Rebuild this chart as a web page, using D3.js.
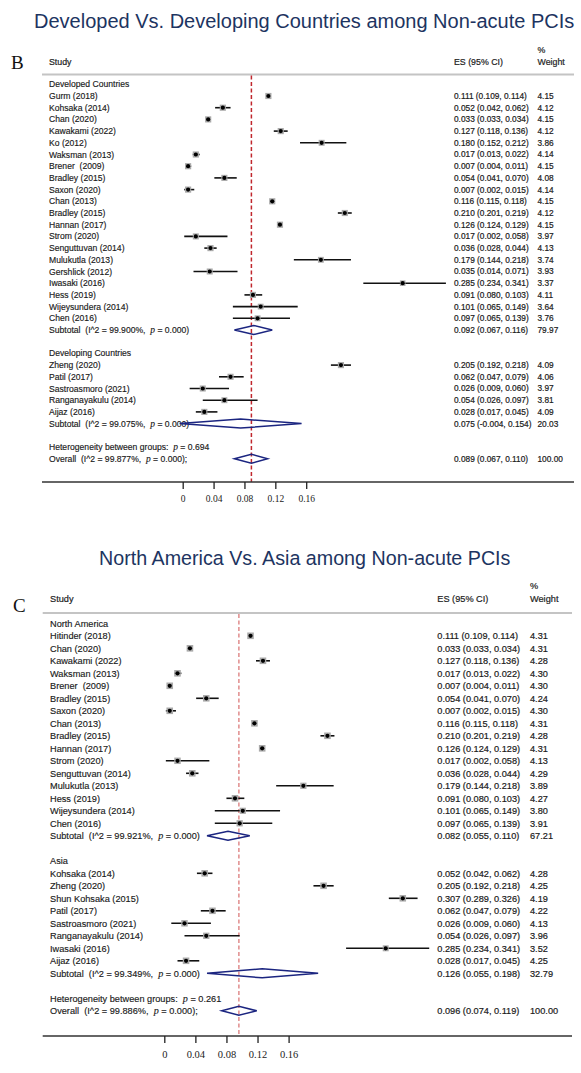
<!DOCTYPE html>
<html>
<head>
<meta charset="utf-8">
<script src="https://cdn.jsdelivr.net/npm/d3@7"></script>
<style>
  html, body { margin: 0; padding: 0; background: #fff; }
  svg { display: block; font-family: "Liberation Sans", Arial, sans-serif; }
  text { white-space: pre; }
</style>
</head>
<body>
<svg id="chart" width="581" height="1073"></svg>
<script>
// ---------- Panel B: developed vs developing ----------
const developedNames = ["Gurm (2018)", "Kohsaka (2014)", "Chan (2020)", "Kawakami (2022)", "Ko (2012)",
  "Waksman (2013)", "Brener  (2009)", "Bradley (2015)", "Saxon (2020)", "Chan (2013)", "Bradley (2015)",
  "Hannan (2017)", "Strom (2020)", "Senguttuvan (2014)", "Mulukutla (2013)", "Gershlick (2012)",
  "Iwasaki (2016)", "Hess (2019)", "Wijeysundera (2014)", "Chen (2016)"];
const developedES = [0.111, 0.052, 0.033, 0.127, 0.180, 0.017, 0.007, 0.054, 0.007, 0.116, 0.210,
  0.126, 0.017, 0.036, 0.179, 0.035, 0.285, 0.091, 0.101, 0.097];
const developedLo = [0.109, 0.042, 0.033, 0.118, 0.152, 0.013, 0.004, 0.041, 0.002, 0.115, 0.201,
  0.124, 0.002, 0.028, 0.144, 0.014, 0.234, 0.080, 0.065, 0.065];
const developedHi = [0.114, 0.062, 0.034, 0.136, 0.212, 0.022, 0.011, 0.070, 0.015, 0.118, 0.219,
  0.129, 0.058, 0.044, 0.218, 0.071, 0.341, 0.103, 0.149, 0.139];
const developedW = [4.15, 4.12, 4.15, 4.12, 3.86, 4.14, 4.15, 4.08, 4.14, 4.15, 4.12,
  4.15, 3.97, 4.13, 3.74, 3.93, 3.37, 4.11, 3.64, 3.76];

const developingNames = ["Zheng (2020)", "Patil (2017)", "Sastroasmoro (2021)", "Ranganayakulu (2014)", "Aijaz (2016)"];
const developingES = [0.205, 0.062, 0.026, 0.054, 0.028];
const developingLo = [0.192, 0.047, 0.009, 0.026, 0.017];
const developingHi = [0.218, 0.079, 0.060, 0.097, 0.045];
const developingW = [4.09, 4.06, 3.97, 3.81, 4.09];

// subtotals: [es, lo, hi, weight, I^2, p]
const devSubtotal = [0.092, 0.067, 0.116, 79.97, "99.900%", "0.000"];
const devingSubtotal = [0.075, -0.004, 0.154, 20.03, "99.075%", "0.000"];
const panelBOverall = [0.089, 0.067, 0.110, 100.00, "99.877%", "0.000"];
const panelBHetP = "0.694";

// ---------- Panel C: North America vs Asia ----------
const naNames = ["Hitinder (2018)", "Chan (2020)", "Kawakami (2022)", "Waksman (2013)", "Brener  (2009)",
  "Bradley (2015)", "Saxon (2020)", "Chan (2013)", "Bradley (2015)", "Hannan (2017)", "Strom (2020)",
  "Senguttuvan (2014)", "Mulukutla (2013)", "Hess (2019)", "Wijeysundera (2014)", "Chen (2016)"];
const naES = [0.111, 0.033, 0.127, 0.017, 0.007, 0.054, 0.007, 0.116, 0.210, 0.126, 0.017,
  0.036, 0.179, 0.091, 0.101, 0.097];
const naLo = [0.109, 0.033, 0.118, 0.013, 0.004, 0.041, 0.002, 0.115, 0.201, 0.124, 0.002,
  0.028, 0.144, 0.080, 0.065, 0.065];
const naHi = [0.114, 0.034, 0.136, 0.022, 0.011, 0.070, 0.015, 0.118, 0.219, 0.129, 0.058,
  0.044, 0.218, 0.103, 0.149, 0.139];
const naW = [4.31, 4.31, 4.28, 4.30, 4.30, 4.24, 4.30, 4.31, 4.28, 4.31, 4.13, 4.29, 3.89, 4.27, 3.80, 3.91];

const asiaNames = ["Kohsaka (2014)", "Zheng (2020)", "Shun Kohsaka (2015)", "Patil (2017)",
  "Sastroasmoro (2021)", "Ranganayakulu (2014)", "Iwasaki (2016)", "Aijaz (2016)"];
const asiaES = [0.052, 0.205, 0.307, 0.062, 0.026, 0.054, 0.285, 0.028];
const asiaLo = [0.042, 0.192, 0.289, 0.047, 0.009, 0.026, 0.234, 0.017];
const asiaHi = [0.062, 0.218, 0.326, 0.079, 0.060, 0.097, 0.341, 0.045];
const asiaW = [4.28, 4.25, 4.19, 4.22, 4.13, 3.96, 3.52, 4.25];

const naSubtotal = [0.082, 0.055, 0.110, 67.21, "99.921%", "0.000"];
const asiaSubtotal = [0.126, 0.055, 0.198, 32.79, "99.349%", "0.000"];
const panelCOverall = [0.096, 0.074, 0.119, 100.00, "99.886%", "0.000"];
const panelCHetP = "0.261";

const tickValues = [0, 0.04, 0.08, 0.12, 0.16];

const svg = d3.select('#chart');
const fmt3 = v => v.toFixed(3);   // keep ascii hyphen for negatives
const esText = (es, lo, hi) => `${fmt3(es)} (${fmt3(lo)}, ${fmt3(hi)})`;
const serif = '"Liberation Serif", "Times New Roman", serif';

function drawPanel(p) {
  const g = svg.append('g');
  const x = d3.scaleLinear().domain([0, 0.16]).range(p.xRange);
  const y = i => p.rowTop + i * p.rowStep;
  const box = d3.scaleSqrt().domain([0, 4.31]).range([0, p.boxMax]);

  // title + panel letter
  g.append('text').attr('x', p.titleX).attr('y', p.titleY)
    .attr('font-size', p.titleSize).attr('fill', '#1d3461').text(p.title);
  g.append('text').attr('x', p.letterX).attr('y', p.letterY)
    .attr('font-family', serif).attr('font-size', 19).attr('fill', '#111').text(p.letter);

  // header
  const hdr = g.append('g').attr('font-size', p.headSize).attr('fill', '#222')
    .attr('stroke', '#222').attr('stroke-width', 0.2);
  hdr.append('text').attr('x', p.labelX).attr('y', p.headY).text('Study');
  hdr.append('text').attr('x', p.esX).attr('y', p.headY).text('ES (95% CI)');
  hdr.append('text').attr('x', p.wX).attr('y', p.pctY).text('%');
  hdr.append('text').attr('x', p.wX).attr('y', p.headY).text('Weight');
  g.append('line').attr('x1', p.lineX[0]).attr('x2', p.lineX[1])
    .attr('y1', p.ruleY).attr('y2', p.ruleY)
    .attr('stroke', '#c4c4c4').attr('stroke-width', 1.8);

  // build rows
  const rows = [];
  let i = 0;
  p.groups.forEach(grp => {
    rows.push({ type: 'group', label: grp.name, i: i++ });
    grp.names.forEach((n, k) => rows.push({
      type: 'study', label: n, es: grp.es[k], lo: grp.lo[k], hi: grp.hi[k], w: grp.w[k], i: i++ }));
    const s = grp.sub;
    rows.push({ type: 'sub', es: s[0], lo: s[1], hi: s[2], w: s[3], i2: s[4], pv: s[5], i: i++ });
    i++;
  });
  rows.push({ type: 'het', pv: p.hetP, i: i++ });
  const o = p.overall;
  rows.push({ type: 'overall', es: o[0], lo: o[1], hi: o[2], w: o[3], i2: o[4], pv: o[5], i: i++ });

  // reference dashed line at overall estimate
  g.append('line').attr('x1', x(o[0])).attr('x2', x(o[0]))
    .attr('y1', p.ruleY + 1).attr('y2', p.axisY)
    .attr('stroke', p.dashColor).attr('stroke-width', 1.5).attr('stroke-dasharray', '4,2.5');

  // labels
  const lab = g.append('g').attr('font-size', p.labelSize).attr('fill', '#1a1a1a')
    .attr('stroke', '#1a1a1a').attr('stroke-width', 0.15);
  rows.forEach(r => {
    const t = lab.append('text').attr('xml:space', 'preserve')
      .attr('x', p.labelX).attr('y', y(r.i) + p.labelSize * 0.35);
    if (r.type === 'group' || r.type === 'study') { t.text(r.label); return; }
    const italicP = () => t.append('tspan').attr('font-style', 'italic')
      .attr('font-family', serif).attr('font-size', p.labelSize * 1.1).text('p');
    if (r.type === 'het') {
      t.append('tspan').text('Heterogeneity between groups:  ');
      italicP();
      t.append('tspan').text(' = ' + r.pv);
      return;
    }
    t.append('tspan').text((r.type === 'sub' ? 'Subtotal' : 'Overall') + '  (I^2 = ' + r.i2 + ',  ');
    italicP();
    t.append('tspan').text(' = ' + r.pv + (r.type === 'sub' ? ')' : ');'));
  });

  // numeric columns
  const num = g.append('g').attr('font-size', p.numSize).attr('fill', '#1a1a1a')
    .attr('stroke', '#1a1a1a').attr('stroke-width', 0.2);
  rows.filter(r => r.es !== undefined).forEach(r => {
    num.append('text').attr('x', p.esX).attr('y', y(r.i) + p.numSize * 0.35).text(esText(r.es, r.lo, r.hi));
    num.append('text').attr('x', p.wX).attr('y', y(r.i) + p.numSize * 0.35).text(r.w.toFixed(2));
  });

  // study markers
  const studies = rows.filter(r => r.type === 'study');
  const mk = g.append('g');
  mk.selectAll('line.ci').data(studies).join('line').attr('class', 'ci')
    .attr('x1', d => x(d.lo)).attr('x2', d => x(d.hi))
    .attr('y1', d => y(d.i)).attr('y2', d => y(d.i))
    .attr('stroke', '#111').attr('stroke-width', 1.6);
  mk.selectAll('rect.wbox').data(studies).join('rect').attr('class', 'wbox')
    .attr('x', d => x(d.es) - box(d.w) / 2).attr('y', d => y(d.i) - box(d.w) / 2)
    .attr('width', d => box(d.w)).attr('height', d => box(d.w))
    .attr('fill', '#aaaaaa');
  mk.selectAll('circle.pt').data(studies).join('circle').attr('class', 'pt')
    .attr('cx', d => x(d.es)).attr('cy', d => y(d.i)).attr('r', 2.1).attr('fill', '#000');

  // pooled diamonds
  const pooled = rows.filter(r => r.type === 'sub' || r.type === 'overall');
  g.selectAll(null).data(pooled).join('path')
    .attr('d', d => {
      const cy = y(d.i), h = p.diamondH / 2;
      return `M${x(d.lo)},${cy}L${x(d.es)},${cy - h}L${x(d.hi)},${cy}L${x(d.es)},${cy + h}Z`;
    })
    .attr('fill', 'none').attr('stroke', '#1b2580').attr('stroke-width', 1.5);

  // x axis
  g.append('line').attr('x1', p.lineX[0]).attr('x2', p.lineX[1])
    .attr('y1', p.axisY).attr('y2', p.axisY).attr('stroke', '#333').attr('stroke-width', 1.5);
  const ax = g.append('g').attr('transform', `translate(0,${p.axisY})`)
    .call(d3.axisBottom(x).tickValues(tickValues).tickSize(7).tickPadding(p.tickPad)
      .tickFormat(d => d === 0 ? '0' : d.toFixed(2)));
  ax.select('.domain').remove();
  ax.selectAll('.tick line').attr('stroke', '#222').attr('stroke-width', 1.3);
  ax.selectAll('.tick text').attr('font-family', serif)
    .attr('font-size', p.tickSize).attr('fill', '#222');
}

drawPanel({
  title: 'Developed Vs. Developing Countries among Non-acute PCIs',
  titleX: 34, titleY: 27.5, titleSize: 20,
  letter: 'B', letterX: 11, letterY: 69,
  xRange: [182.7, 306.2], rowTop: 84.3, rowStep: 11.7,
  labelX: 49, labelSize: 8.6, headSize: 8.8, numSize: 8.3,
  esX: 454, wX: 537.5, headY: 65, pctY: 53, ruleY: 74.5, lineX: [42, 574],
  axisY: 482, tickPad: 6, tickSize: 9.5, boxMax: 6.3, diamondH: 9,
  dashColor: '#c0272d', hetP: panelBHetP, overall: panelBOverall,
  groups: [
    { name: 'Developed Countries', names: developedNames, es: developedES, lo: developedLo, hi: developedHi, w: developedW, sub: devSubtotal },
    { name: 'Developing Countries', names: developingNames, es: developingES, lo: developingLo, hi: developingHi, w: developingW, sub: devingSubtotal }
  ]
});

drawPanel({
  title: 'North America Vs. Asia among Non-acute PCIs',
  titleX: 99, titleY: 565, titleSize: 19.7,
  letter: 'C', letterX: 13, letterY: 612,
  xRange: [164.3, 288.6], rowTop: 623.3, rowStep: 12.5,
  labelX: 50, labelSize: 9.2, headSize: 9.2, numSize: 9.2,
  esX: 437.3, wX: 530, headY: 602, pctY: 589, ruleY: 613, lineX: [42.7, 572],
  axisY: 1036, tickPad: 7.5, tickSize: 10.5, boxMax: 6.6, diamondH: 9,
  dashColor: '#e08c8c', hetP: panelCHetP, overall: panelCOverall,
  groups: [
    { name: 'North America', names: naNames, es: naES, lo: naLo, hi: naHi, w: naW, sub: naSubtotal },
    { name: 'Asia', names: asiaNames, es: asiaES, lo: asiaLo, hi: asiaHi, w: asiaW, sub: asiaSubtotal }
  ]
});
</script>
</body>
</html>
